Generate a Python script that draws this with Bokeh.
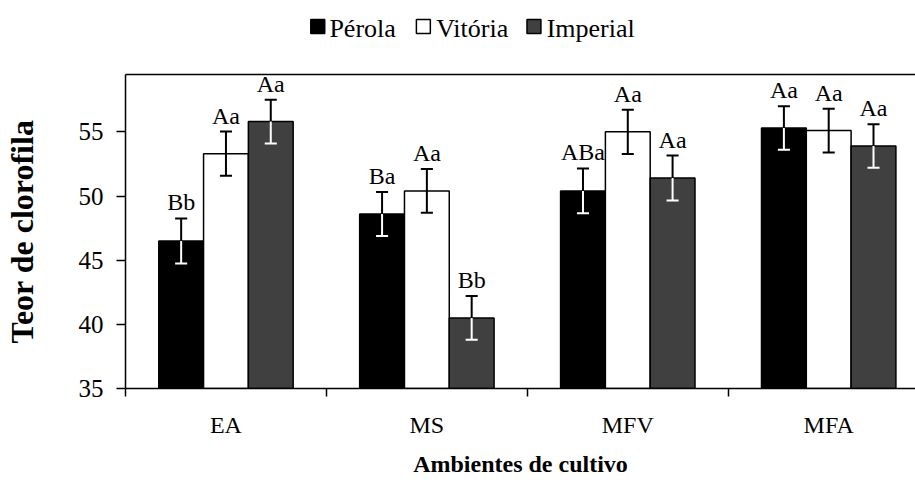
from bokeh.plotting import figure
from bokeh.layouts import column
from bokeh.models import (Range1d, FixedTicker, LinearAxis, ColumnDataSource)
from bokeh.core.properties import value
from bokeh.embed import file_html
from bokeh.resources import INLINE

# ---- data ----
categories = ["EA", "MS", "MFV", "MFA"]
series_names = ["Pérola", "Vitória", "Imperial"]
perola = [46.5, 48.6, 50.4, 55.3]
vitoria = [53.3, 50.4, 55.0, 55.1]
imperial = [55.8, 40.5, 51.4, 53.9]
perola_err = [1.75, 1.72, 1.75, 1.7]
vitoria_err = [1.72, 1.7, 1.72, 1.7]
imperial_err = [1.7, 1.7, 1.75, 1.7]
perola_lbl = ["Bb", "Ba", "ABa", "Aa"]
vitoria_lbl = ["Aa", "Aa", "Aa", "Aa"]
imperial_lbl = ["Aa", "Bb", "Aa", "Aa"]
y_ticks = [35, 40, 45, 50, 55]
Y_MIN, Y_MAX = 35, 59.47

FONT = "Liberation Serif"
BAR_W = 0.223
CAP = 0.03
fills = ["black", "white", "#404040"]
inner_err = ["white", "black", "white"]

# ---- main chart ----
p = figure(width=915, height=416,
           x_range=Range1d(0, 3.932), y_range=Range1d(Y_MIN, Y_MAX),
           output_backend="svg", toolbar_location=None,
           min_border_left=122, min_border_right=0,
           min_border_top=6, min_border_bottom=96)
p.xgrid.visible = False
p.ygrid.visible = False
p.outline_line_color = None
p.background_fill_color = "white"
p.border_fill_color = "white"

series = [(perola, perola_err, perola_lbl),
          (vitoria, vitoria_err, vitoria_lbl),
          (imperial, imperial_err, imperial_lbl)]
offsets = [-1, 0, 1]
for (vals, errs, lbls), off, fill, inner in zip(series, offsets, fills, inner_err):
    xs = [i + 0.5 + off * BAR_W for i in range(len(categories))]
    src = ColumnDataSource(dict(
        x=xs, top=vals,
        hi=[v + e for v, e in zip(vals, errs)],
        lo=[v - e for v, e in zip(vals, errs)],
        xl=[x - CAP for x in xs], xr=[x + CAP for x in xs],
        lbl=lbls))
    p.vbar(x="x", top="top", bottom=Y_MIN, width=BAR_W, source=src,
           fill_color=fill, line_color="black", line_width=1.5)
    p.segment(x0="x", y0="top", x1="x", y1="hi", source=src,
              line_color="black", line_width=2)
    p.segment(x0="xl", y0="hi", x1="xr", y1="hi", source=src,
              line_color="black", line_width=2)
    p.segment(x0="x", y0="lo", x1="x", y1="top", source=src,
              line_color=inner, line_width=2)
    p.segment(x0="xl", y0="lo", x1="xr", y1="lo", source=src,
              line_color=inner, line_width=2)
    p.text(x="x", y="hi", text="lbl", source=src,
           text_align="center", text_baseline="alphabetic", y_offset=-16,
           text_font=value(FONT), text_font_size="24px", text_color="black")

yax = p.yaxis[0]
yax.ticker = FixedTicker(ticks=y_ticks, minor_ticks=[])
yax.axis_line_color = "black"
yax.axis_line_width = 1.5
yax.major_tick_line_color = "black"
yax.major_tick_line_width = 1.5
yax.major_tick_out = 9
yax.major_tick_in = 0
yax.minor_tick_line_color = None
yax.major_label_standoff = 13
yax.major_label_text_font = FONT
yax.major_label_text_font_size = "25px"
yax.major_label_text_color = "black"
yax.axis_label = "Teor de clorofila"
yax.axis_label_text_font = FONT
yax.axis_label_text_font_size = "32px"
yax.axis_label_text_font_style = "bold"
yax.axis_label_text_color = "black"
yax.axis_label_standoff = 36

xax = p.xaxis[0]
centers = [i + 0.5 for i in range(len(categories))]
bounds = [float(i) for i in range(len(categories) + 1)]
xax.ticker = FixedTicker(ticks=centers, minor_ticks=bounds)
xax.major_label_overrides = {c: n for c, n in zip(centers, categories)}
xax.axis_line_color = "black"
xax.axis_line_width = 1.5
xax.major_tick_line_color = None
xax.major_tick_out = 0
xax.major_tick_in = 0
xax.minor_tick_line_color = "black"
xax.minor_tick_line_width = 1.5
xax.minor_tick_out = 8
xax.minor_tick_in = 0
xax.major_label_standoff = 15
xax.major_label_text_font = FONT
xax.major_label_text_font_size = "24px"
xax.major_label_text_color = "black"
xax.axis_label = "Ambientes de cultivo"
xax.axis_label_text_font = FONT
xax.axis_label_text_font_size = "24px"
xax.axis_label_text_font_style = "bold"
xax.axis_label_text_color = "black"
xax.axis_label_standoff = 10

top_axis = LinearAxis(ticker=FixedTicker(ticks=[], minor_ticks=[]),
                      major_label_text_font_size="0px",
                      major_tick_line_color=None, minor_tick_line_color=None,
                      major_tick_out=0, major_tick_in=0, major_label_standoff=0,
                      axis_line_color="black", axis_line_width=1.5)
p.add_layout(top_axis, "above")

# ---- legend strip above the chart (pixel-unit ranges) ----
lf = figure(width=915, height=68, x_range=Range1d(122, 915),
            y_range=Range1d(0, 68),
            output_backend="svg", toolbar_location=None,
            min_border_left=0, min_border_right=0,
            min_border_top=0, min_border_bottom=0)
lf.yaxis.visible = False
lf.grid.visible = False
lf.outline_line_color = None
lf.border_fill_color = "white"
lf.background_fill_color = "white"

LEG_SWATCH_X = [315, 421, 532]   # legend key layout (pixels)
LEG_LABEL_X = [360, 470, 589]    # centres of the legend texts (pixels)
LEG_Y = 42
SWATCH = 14
leg = ColumnDataSource(dict(
    sx=LEG_SWATCH_X, y=[LEG_Y] * len(series_names), fill=fills))
lf.rect(x="sx", y="y", width=SWATCH, height=SWATCH, source=leg,
        fill_color="fill", line_color="black", line_width=1.5)

# legend texts drawn as axis labels (same text path as the chart's axes)
lax = lf.xaxis[0]
lax.fixed_location = 60
lax.ticker = FixedTicker(ticks=LEG_LABEL_X, minor_ticks=[])
lax.major_label_overrides = {x: n for x, n in zip(LEG_LABEL_X, series_names)}
lax.axis_line_color = None
lax.major_tick_line_color = None
lax.minor_tick_line_color = None
lax.major_tick_out = 0
lax.major_tick_in = 0
lax.major_label_standoff = 5
lax.major_label_text_font = FONT
lax.major_label_text_font_size = "26px"
lax.major_label_text_color = "black"

layout = column(lf, p, spacing=0)
open("out.html", "w").write(file_html(layout, INLINE))
